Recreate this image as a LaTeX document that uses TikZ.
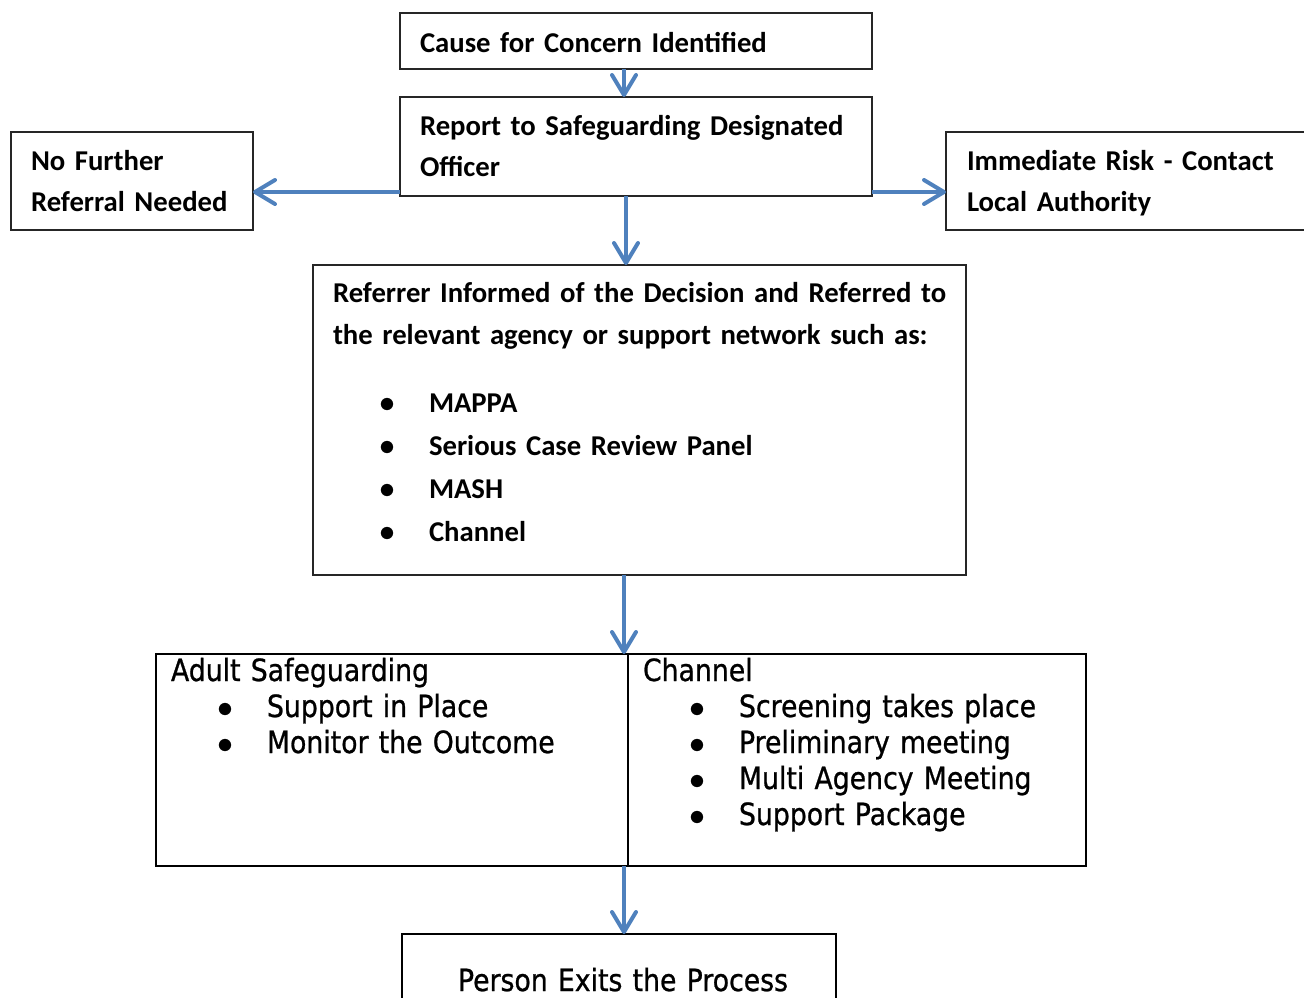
\documentclass[tikz,border=0pt]{standalone}
\usepackage{fontspec}
\usepackage{graphicx}
\setmainfont{Carlito}
\newfontfamily\tahfont[FakeStretch=0.873,FakeBold=0.8]{DejaVu Sans}
\usetikzlibrary{positioning,arrows.meta}
\definecolor{flowblue}{RGB}{79,129,189}
% bullet item: dot at 54pt, text at 96pt from the left margin
\newcommand{\itm}{\hspace*{54pt}\makebox[0pt]{\smash{\scalebox{3.2}{\fontsize{10}{12}\selectfont$\bullet$}}}\hspace*{42pt}}

\begin{document}
\begin{tikzpicture}[x=1pt,y=-1pt,
  topbox/.style={draw=black!85,line width=1.3pt,anchor=north west,outer sep=0pt,inner ysep=0pt,inner xsep=20pt,align=left,font=\bfseries\fontsize{28.7}{41}\selectfont},
  listbox/.style={draw=black,line width=2.2pt,anchor=north west,outer sep=0pt,inner ysep=0pt,inner xsep=15pt,align=left,font=\tahfont\fontsize{30.6}{36}\selectfont},
  flow/.style={flowblue,line width=4pt,-{Straight Barb[length=20pt,width=24pt,round]}}]
\useasboundingbox (0,0) rectangle (1304,997);
\node[topbox,text width=432pt,text height=39pt,text depth=17pt] (cause) at (400,13) {Cause for Concern Identified};
\node[topbox,text width=432pt,text height=38pt,text depth=61pt,below=28pt of cause] (report) {\mbox{Report to Safeguarding Designated}\\Officer};
\node[topbox,text width=202pt,text height=38pt,text depth=60pt] (nofurther) at (11,132) {No Further\\\mbox{Referral Needed}};
\node[topbox,inner xsep=21pt,text width=322pt,text height=38pt,text depth=60pt] (immrisk) at (946,132) {Immediate Risk - Contact\\Local Authority};
\node[topbox,text width=613pt,text height=37pt,text depth=273pt,font=\bfseries\fontsize{28.7}{42.8}\selectfont] (referrer) at (313,265)
  {\mbox{Referrer Informed of the Decision and Referred to}\\the relevant agency or support network such as:\\[25pt]
   \itm MAPPA\\\itm Serious Case Review Panel\\\itm MASH\\\itm Channel};
\node[listbox,text width=442pt,text height=27pt,text depth=185pt] (adult) at (156,654)
  {Adult Safeguarding\\\itm Support in Place\\\itm Monitor the Outcome};
\node[listbox,text width=428pt,text height=27pt,text depth=185pt,right=0pt of adult] (channel)
  {Channel\\\itm Screening takes place\\\itm Preliminary meeting\\\itm Multi Agency Meeting\\\itm Support Package};
\node[listbox,inner xsep=0pt,text width=434pt,align=center,text height=57pt,text depth=24pt] (exit) at (402,934)
  {\hspace*{8pt}Person Exits the Process};
\draw[flow] ([xshift=-12pt]cause.south) -- ([xshift=-12pt]report.north);
\draw[flow] ([yshift=4pt]report.south west) -- ([yshift=4pt]report.south west -| nofurther.east);
\draw[flow] ([yshift=4pt]report.south east) -- ([yshift=4pt]report.south east -| immrisk.west);
\draw[flow] ([xshift=-10pt]report.south) -- ([xshift=-10pt]report.south |- referrer.north);
\draw[flow] ([xshift=-4pt]adult.north east |- referrer.south) -- ([xshift=-4pt]adult.north east);
\draw[flow] ([xshift=-4pt]adult.south east) -- ([xshift=-4pt]adult.south east |- exit.north);
\end{tikzpicture}
\end{document}
